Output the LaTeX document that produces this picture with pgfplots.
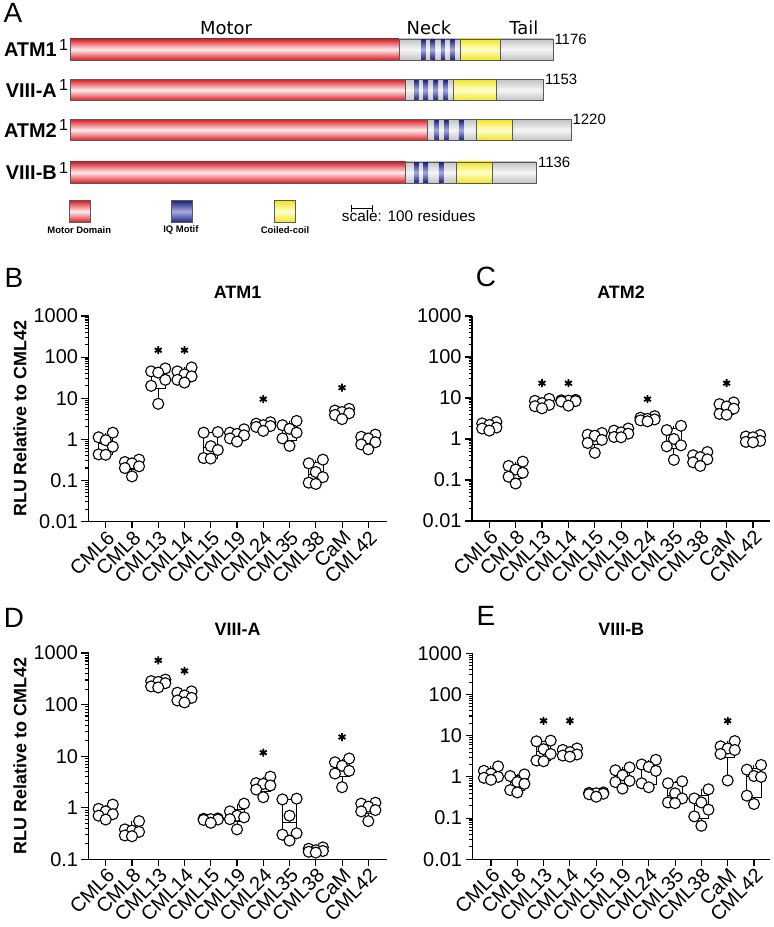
\documentclass[border=0pt]{standalone}
\usepackage{pgfplots}
\pgfplotsset{compat=1.18}
\usepackage{pgfplotstable}
\usepackage{fontspec}
\setmainfont{Liberation Sans}
\newfontfamily\dvs{DejaVu Sans}
\newcommand{\fs}[1]{\fontsize{#1}{#1}\selectfont}

\definecolor{redT}{RGB}{220,28,36}
\definecolor{redM}{RGB}{255,236,236}
\definecolor{greyT}{RGB}{196,196,196}
\definecolor{greyM}{RGB}{246,246,246}
\definecolor{yelT}{RGB}{240,228,40}
\definecolor{yelM}{RGB}{255,255,205}
\definecolor{bluT}{RGB}{32,36,125}
\definecolor{bluM}{RGB}{165,172,225}

\pgfplotsset{
  segA/.style={draw=black!65, line width=0.75bp, mark=none},
  motorA/.style={segA, top color=redT, bottom color=redT, middle color=redM},
  greyA/.style={segA, top color=greyT, bottom color=greyT, middle color=greyM},
  yelA/.style={segA, top color=yelT, bottom color=yelT, middle color=yelM},
  iqA/.style={draw=none, mark=none, top color=bluT, bottom color=bluT, middle color=bluM},
  boxlineA/.style={draw=black, line width=1bp, mark=none, unbounded coords=jump},
  myptsA/.style={only marks, mark=*, mark size=5.5bp, mark options={fill=white, draw=black, line width=1.1bp}},
  mystarA/.style={only marks, mark=asterisk, mark size=4bp, line width=1.8bp, black},
  rluaxisA/.style={
    scale only axis, anchor=south west, clip=false,
    axis x line*=bottom, axis y line*=left,
    axis line style={line width=1.1bp, -},
    tick style={line width=1.1bp, black},
    tick align=outside,
    major tick length=7bp, minor tick length=3.5bp,
    xtick={0,...,10},
    xticklabels={CML6,CML8,CML13,CML14,CML15,CML19,CML24,CML35,CML38,CaM,CML42},
    xticklabel style={xshift=6bp, yshift=-5bp, rotate=45, anchor=east, font=\fs{20}, inner sep=1bp},
    ytick={0.01,0.1,1,10,100,1000},
    yticklabels={0.01,0.1,1,10,100,1000},
    minor ytick={0.02,0.03,0.04,0.05,0.06,0.07,0.08,0.09,0.2,0.3,0.4,0.5,0.6,0.7,0.8,0.9,2,3,4,5,6,7,8,9,20,30,40,50,60,70,80,90,200,300,400,500,600,700,800,900},
    yticklabel style={font=\fs{20}},
    title style={at={(axis description cs:0.5,1)}, anchor=center, yshift=18bp, font=\fs{18}\bfseries},
    ylabel style={at={(axis description cs:-0.2297,0.5)}, anchor=center, font=\fs{18}\bfseries},
  }
}

\newcommand{\rect}[5]{\addplot[#1] coordinates {(#2,#4) (#3,#4) (#3,#5) (#2,#5)} -- cycle;}
% box: position, min, q1, median, q3, max
\newcommand{\bxp}[6]{%
  \pgfmathsetmacro{\bxL}{#1-0.275}\pgfmathsetmacro{\bxR}{#1+0.275}%
  \edef\bxtmp{\noexpand\addplot[boxlineA] coordinates {(\bxL,#3) (\bxR,#3) (\bxR,#5) (\bxL,#5) (\bxL,#3) (nan,nan) (\bxL,#4) (\bxR,#4) (nan,nan) (#1,#2) (#1,#3) (nan,nan) (#1,#5) (#1,#6)};}%
  \bxtmp}
\newcommand{\ptsof}[1]{%
  \pgfplotsinvokeforeach{0,...,10}{\addplot[myptsA] table[x expr={##1+\thisrow{dx}}, y=c##1]{#1};}%
}

\pgfplotstableread{
dx c0 c1 c2 c3 c4 c5 c6 c7 c8 c9 c10
0.27 1.45 0.32 53 56 1.5 1.75 2.6 2.8 0.32 5.5 1.3
-0.27 1.12 0.28 45 45 1.45 1.45 2.4 2.2 0.26 5.0 1.15
0 0.95 0.26 42 38 0.68 1.35 2.2 1.8 0.16 4.6 1.05
0.27 0.66 0.22 28 34 0.55 1.25 2.1 1.45 0.12 4.3 0.85
-0.27 0.43 0.2 20 28 0.35 1.05 2.0 1.05 0.088 3.9 0.75
0 0.42 0.125 7.3 24 0.34 0.88 1.6 0.69 0.082 3.1 0.57
}\tabB
\pgfplotstableread{
dx c0 c1 c2 c3 c4 c5 c6 c7 c8 c9 c10
0.27 2.6 0.28 9.5 9.0 1.4 1.8 3.6 2.1 0.48 7.8 1.25
-0.27 2.4 0.22 8.5 8.8 1.27 1.6 3.3 1.65 0.4 7.1 1.15
0 2.2 0.18 7.5 8.6 1.2 1.45 3.1 1.0 0.36 6.2 1.1
0.27 1.9 0.15 6.8 8.4 0.95 1.35 3.0 0.7 0.32 5.5 0.9
-0.27 1.8 0.12 6.3 8.2 0.8 1.12 2.85 0.66 0.27 4.1 0.85
0 1.6 0.082 5.6 6.5 0.46 1.1 2.7 0.31 0.22 3.9 0.83
}\tabC
\pgfplotstableread{
dx c0 c1 c2 c3 c4 c5 c6 c7 c8 c9 c10
0.27 1.15 0.55 305 180 0.62 1.2 4.0 1.5 0.17 9.0 1.25
-0.27 0.95 0.38 285 170 0.61 0.85 3.0 1.45 0.16 7.6 1.2
0 0.85 0.36 275 150 0.6 0.7 2.9 0.7 0.15 6.5 1.05
0.27 0.75 0.34 260 135 0.59 0.65 2.7 0.32 0.145 5.2 0.9
-0.27 0.7 0.29 225 120 0.58 0.6 2.25 0.3 0.14 4.6 0.85
0 0.59 0.28 215 110 0.51 0.38 1.6 0.23 0.135 2.5 0.55
}\tabD
\pgfplotstableread{
dx c0 c1 c2 c3 c4 c5 c6 c7 c8 c9 c10
0.27 1.8 1.15 7.6 4.9 0.42 1.7 2.6 0.78 0.5 7.4 1.95
-0.27 1.4 1.05 7.3 4.5 0.41 1.45 2.0 0.7 0.3 5.5 1.5
0 1.2 0.75 4.7 4.0 0.4 1.1 1.75 0.4 0.24 4.9 1.05
0.27 1.0 0.68 3.6 3.5 0.39 0.8 1.4 0.3 0.16 4.5 1.0
-0.27 0.95 0.48 2.5 3.3 0.38 0.75 0.7 0.24 0.11 3.6 0.35
0 0.85 0.42 2.4 3.1 0.33 0.52 0.56 0.23 0.065 0.82 0.22
}\tabE

\begin{document}
\begin{tikzpicture}
\path[use as bounding box] (0,0) rectangle (774bp,927bp);

% ---------------- Panel A: domain diagram (x in residues, y in image px) ----
\begin{axis}[at={(0bp,927bp)}, anchor=north west, scale only axis,
  width=774bp, height=240bp, xmin=-170.44, xmax=1714.1, ymin=0, ymax=240,
  y dir=reverse, hide axis, clip=false]
% ATM1
\rect{greyA}{0}{1176}{39}{60}
\rect{motorA}{0}{801}{39}{60}
\rect{yelA}{950}{1049}{39}{60}
\rect{iqA}{855}{866}{39.6}{59.4}
\rect{iqA}{878}{889}{39.6}{59.4}
\rect{iqA}{903}{913}{39.6}{59.4}
\rect{iqA}{926}{937}{39.6}{59.4}
% VIII-A
\rect{greyA}{0}{1153}{79.5}{100.5}
\rect{motorA}{0}{817}{79.5}{100.5}
\rect{yelA}{933}{1037}{79.5}{100.5}
\rect{iqA}{838}{849}{80.1}{99.9}
\rect{iqA}{860}{872}{80.1}{99.9}
\rect{iqA}{885}{896}{80.1}{99.9}
\rect{iqA}{909}{920}{80.1}{99.9}
% ATM2
\rect{greyA}{0}{1220}{119.5}{140.5}
\rect{motorA}{0}{870}{119.5}{140.5}
\rect{yelA}{990}{1078}{119.5}{140.5}
\rect{iqA}{887}{898}{120.1}{139.9}
\rect{iqA}{911}{922}{120.1}{139.9}
\rect{iqA}{947}{959}{120.1}{139.9}
% VIII-B
\rect{greyA}{0}{1136}{162}{183}
\rect{motorA}{0}{817}{162}{183}
\rect{yelA}{940}{1028}{162}{183}
\rect{iqA}{838}{849}{162.6}{182.4}
\rect{iqA}{860}{872}{162.6}{182.4}
\rect{iqA}{898}{909}{162.6}{182.4}
% legend boxes
\rect{motorA}{-2.4}{48.7}{200.7}{222.3}
\rect{segA, top color=bluT, bottom color=bluT, middle color=bluM}{248}{299}{200.7}{222.3}
\rect{yelA}{497}{548}{200.7}{222.3}
% scale bar
\addplot[black, line width=1.2bp, mark=none] coordinates {(686,208.3) (737,208.3)};
\addplot[black, line width=1.2bp, mark=none] coordinates {(686,204.8) (686,211.8)};
\addplot[black, line width=1.2bp, mark=none] coordinates {(737,204.8) (737,211.8)};

\node[anchor=base west, font=\fs{15.4}, inner sep=0] at (axis cs:661.6,221.8) {scale: 100 residues};
\node[font=\fs{9.5}\bfseries, inner sep=0] at (axis cs:22.6,229.7) {Motor Domain};
\node[font=\fs{9.5}\bfseries, inner sep=0] at (axis cs:270,229.7) {IQ Motif};
\node[font=\fs{9.5}\bfseries, inner sep=0] at (axis cs:523.5,229.7) {Coiled-coil};

\node[anchor=base, font=\dvs\fs{18}, inner sep=0] at (axis cs:380,35) {Motor};
\node[anchor=base, font=\dvs\fs{18}, inner sep=0] at (axis cs:874,35) {Neck};
\node[anchor=base, font=\dvs\fs{18}, inner sep=0] at (axis cs:1105,35) {Tail};

\node[anchor=east, font=\fs{20}\bfseries, inner sep=0] at (axis cs:-31.7,50) {ATM1};
\node[anchor=east, font=\fs{20}\bfseries, inner sep=0] at (axis cs:-31.7,90.5) {VIII-A};
\node[anchor=east, font=\fs{20}\bfseries, inner sep=0] at (axis cs:-31.7,130.5) {ATM2};
\node[anchor=east, font=\fs{20}\bfseries, inner sep=0] at (axis cs:-31.7,173) {VIII-B};
\node[anchor=north west, font=\fs{16}, inner sep=0] at (axis cs:-27,39) {1};
\node[anchor=north west, font=\fs{16}, inner sep=0] at (axis cs:-27,79.5) {1};
\node[anchor=north west, font=\fs{16}, inner sep=0] at (axis cs:-27,119.5) {1};
\node[anchor=north west, font=\fs{16}, inner sep=0] at (axis cs:-27,162) {1};

\node[anchor=west, font=\fs{15}, inner sep=0.5bp] at (axis cs:1178,39) {1176};
\node[anchor=west, font=\fs{15}, inner sep=0.5bp] at (axis cs:1155,79) {1153};
\node[anchor=west, font=\fs{15}, inner sep=0.5bp] at (axis cs:1222,119) {1220};
\node[anchor=west, font=\fs{15}, inner sep=0.5bp] at (axis cs:1138,162) {1136};
\end{axis}

% ---------------- Panel B ----------------
\begin{axis}[rluaxisA, ymode=log, at={(88.5bp,405.5bp)}, width=298.2bp, height=205.5bp,
  xmin=-0.655, xmax=10.7, ymin=0.01, ymax=1000,
  title={ATM1}, ylabel={RLU Relative to CML42}]
\bxp{0}{0.42}{0.43}{0.805}{1.2}{1.45}
\bxp{1}{0.125}{0.181}{0.24}{0.29}{0.32}
\bxp{2}{7.3}{16.8}{35}{47}{53}
\bxp{3}{24}{27}{36}{47.75}{56}
\bxp{4}{0.34}{0.3475}{0.615}{1.46}{1.5}
\bxp{5}{0.88}{1.01}{1.3}{1.525}{1.75}
\bxp{6}{1.6}{1.9}{2.15}{2.45}{2.6}
\bxp{7}{0.69}{0.96}{1.625}{2.35}{2.8}
\bxp{8}{0.082}{0.0865}{0.14}{0.275}{0.32}
\bxp{9}{3.1}{3.7}{4.45}{5.125}{5.5}
\bxp{10}{0.57}{0.705}{0.95}{1.19}{1.3}
\ptsof{\tabB}
\addplot[mystarA] coordinates {(2,147) (3,147) (6,9.5) (9,18)};
\end{axis}

% ---------------- Panel C ----------------
\begin{axis}[rluaxisA, ymode=log, at={(472bp,406bp)}, width=298bp, height=205bp,
  xmin=-0.656, xmax=10.645, ymin=0.01, ymax=1000,
  title={ATM2}]
\bxp{0}{1.6}{1.75}{2.05}{2.45}{2.6}
\bxp{1}{0.082}{0.1105}{0.165}{0.235}{0.28}
\bxp{2}{5.6}{6.125}{7.15}{8.75}{9.5}
\bxp{3}{6.5}{7.775}{8.5}{8.85}{9.0}
\bxp{4}{0.46}{0.715}{1.075}{1.3025}{1.4}
\bxp{5}{1.1}{1.115}{1.4}{1.65}{1.8}
\bxp{6}{2.7}{2.81}{3.05}{3.375}{3.6}
\bxp{7}{0.31}{0.5725}{0.85}{1.76}{2.1}
\bxp{8}{0.22}{0.2575}{0.34}{0.42}{0.48}
\bxp{9}{3.9}{4.05}{5.85}{7.275}{7.8}
\bxp{10}{0.83}{0.845}{1.0}{1.175}{1.25}
\ptsof{\tabC}
\addplot[mystarA] coordinates {(2,23) (3,23) (6,9.4) (9,23)};
\end{axis}

% ---------------- Panel D ----------------
\begin{axis}[rluaxisA, ymode=log, at={(88.5bp,67.7bp)}, width=298.2bp, height=206.3bp,
  xmin=-0.655, xmax=10.7, ymin=0.1, ymax=1000,
  title={VIII-A}, ylabel={RLU Relative to CML42}]
\bxp{0}{0.59}{0.6725}{0.8}{1.0}{1.15}
\bxp{1}{0.28}{0.2875}{0.35}{0.4225}{0.55}
\bxp{2}{215}{222.5}{267.5}{290}{305}
\bxp{3}{110}{117.5}{142.5}{172.5}{180}
\bxp{4}{0.51}{0.5625}{0.595}{0.6125}{0.62}
\bxp{5}{0.38}{0.545}{0.675}{0.9375}{1.2}
\bxp{6}{1.6}{2.09}{2.8}{3.25}{4.0}
\bxp{7}{0.23}{0.2825}{0.51}{1.4625}{1.5}
\bxp{8}{0.135}{0.139}{0.1475}{0.1625}{0.17}
\bxp{9}{2.5}{4.075}{5.85}{7.95}{9.0}
\bxp{10}{0.55}{0.775}{0.975}{1.2125}{1.25}
\ptsof{\tabD}
\addplot[mystarA] coordinates {(2,720) (3,450) (6,11.7) (9,23.5)};
\end{axis}

% ---------------- Panel E ----------------
\begin{axis}[rluaxisA, ymode=log, at={(472.5bp,67.7bp)}, width=297.5bp, height=206bp,
  xmin=-0.703, xmax=10.61, ymin=0.01, ymax=1000,
  title={VIII-B}]
\bxp{0}{0.85}{0.925}{1.1}{1.5}{1.8}
\bxp{1}{0.42}{0.465}{0.715}{1.075}{1.15}
\bxp{2}{2.4}{2.475}{4.15}{7.375}{7.6}
\bxp{3}{3.1}{3.25}{3.75}{4.6}{4.9}
\bxp{4}{0.33}{0.3675}{0.395}{0.4125}{0.42}
\bxp{5}{0.52}{0.6925}{0.95}{1.5125}{1.7}
\bxp{6}{0.56}{0.665}{1.575}{2.15}{2.6}
\bxp{7}{0.23}{0.2375}{0.35}{0.72}{0.78}
\bxp{8}{0.065}{0.099}{0.2}{0.35}{0.5}
\bxp{9}{0.82}{2.9}{4.7}{5.975}{7.4}
\bxp{10}{0.22}{0.3175}{1.025}{1.6125}{1.95}
\ptsof{\tabE}
\addplot[mystarA] coordinates {(2,23) (3,23) (9,23)};
\end{axis}

% panel letters
\node[font=\fs{28}, inner sep=0] at (13bp,914bp) {A};
\node[font=\fs{28}, inner sep=0] at (14bp,649bp) {B};
\node[font=\fs{28}, inner sep=0] at (486bp,650bp) {C};
\node[font=\fs{28}, inner sep=0] at (14bp,309bp) {D};
\node[font=\fs{28}, inner sep=0] at (486bp,311bp) {E};
\end{tikzpicture}
\end{document}
